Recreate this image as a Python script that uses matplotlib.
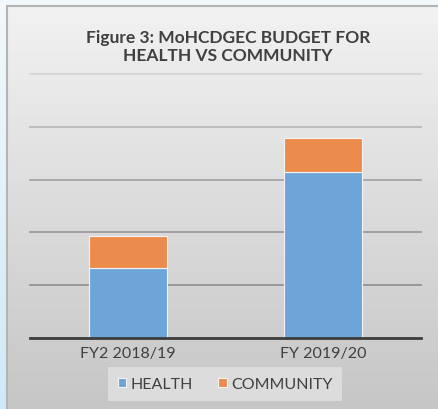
import numpy as np
import matplotlib
matplotlib.use("Agg")
import matplotlib.pyplot as plt
from matplotlib.colors import LinearSegmentedColormap

# ---- data (gridline units) ----
years = ["FY2 2018/19", "FY 2019/20"]
health = [1.32, 3.15]
community = [0.62, 0.64]
series_names = ["HEALTH", "COMMUNITY"]
title = "Figure 3: MoHCDGEC BUDGET FOR\nHEALTH VS COMMUNITY"

plt.rcParams["font.family"] = ["Lato", "DejaVu Sans"]

W, H = 438, 410
fig = plt.figure(figsize=(W / 100, H / 100), dpi=100)

##### outer light blue background ############################
bg = fig.add_axes([0, 0, 1, 1])
bg.axis("off")
blue = LinearSegmentedColormap.from_list("b", ["#cdeaf8", "#f3f9fc"])
bg.imshow(np.linspace(0, 1, 256).reshape(-1, 1), cmap=blue, aspect="auto",
          origin="lower", extent=[0, 1, 0, 1])
bg.set_xlim(0, 1)
bg.set_ylim(0, 1)

##### grey chart panel #######################################
px0, py0 = 7 / W, 7 / H
panel = fig.add_axes([px0, 0, 1 - px0, 1 - py0])
grey = LinearSegmentedColormap.from_list("g", ["#c6c6c6", "#f2f2f2"])
panel.imshow(np.linspace(0, 1, 256).reshape(-1, 1), cmap=grey, aspect="auto",
             origin="lower", extent=[0, 1, 0, 1])
panel.set_xticks([])
panel.set_yticks([])
for k, s in panel.spines.items():
    s.set_color("#b4b4b4")
    s.set_linewidth(1.5)
    if k in ("right", "bottom"):
        s.set_visible(False)

##### chart ##################################################
ax = fig.add_axes([30 / W, (H - 339) / H, (421 - 30) / W, (339 - 75) / H])
ax.patch.set_alpha(0)
x = np.arange(len(years))
ax.bar(x, health, width=0.40, color="#6da5d8", edgecolor="#f4f4f4",
       linewidth=0.8, label=series_names[0], zorder=3)
ax.bar(x, community, width=0.40, bottom=health, color="#ec8c4c",
       edgecolor="#f4f4f4", linewidth=0.8, label=series_names[1], zorder=3)

ax.set_xlim(-0.5, 1.5)
ax.set_ylim(0, 5)
grid_vals = np.arange(1, 6)
grid_cols = ["#8e8e8e", "#959595", "#a0a0a0", "#b4b4b4", "#d2d2d2"]
for v, c in zip(grid_vals, grid_cols):
    ax.axhline(v, color=c, linewidth=1.2, zorder=1, clip_on=False)
ax.set_yticks([])
ax.tick_params(axis="x", length=0, pad=6, labelsize=11.5, labelcolor="#404040")
ax.set_xticks(x)
ax.set_xticklabels(years)
for k in ["top", "right", "left"]:
    ax.spines[k].set_visible(False)
ax.spines["bottom"].set_color("#3c3c3c")
ax.spines["bottom"].set_linewidth(2)
ax.spines["bottom"].set_zorder(4)

fig.text(0.52, 1 - 47 / H, title, ha="center", va="center",
         fontsize=12.5, fontweight="bold", color="#404040", linespacing=1.1)

leg = fig.legend(loc="center", bbox_to_anchor=(225 / W, 1 - 385 / H), ncol=2,
                 fontsize=11.5, frameon=True, fancybox=False,
                 handlelength=0.55, handleheight=0.55, handletextpad=0.25,
                 columnspacing=1.6, borderpad=0.6)
leg.get_frame().set_facecolor("#dcdcdc")
leg.get_frame().set_edgecolor("none")
leg.get_frame().set_alpha(1)
for t in leg.get_texts():
    t.set_color("#404040")

fig.savefig("out.png", dpi=100)
